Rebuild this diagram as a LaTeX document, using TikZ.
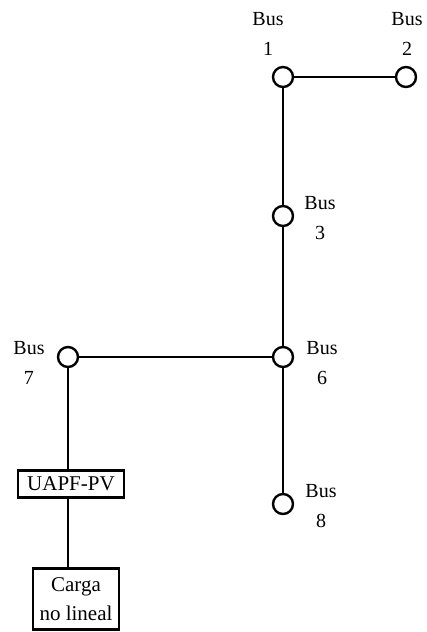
\documentclass[tikz,border=0pt]{standalone}
\usepackage{fontspec}
\setmainfont{Liberation Serif}
\begin{document}
\begin{tikzpicture}[x=1pt,y=-1pt,
  bus/.style={circle,draw,line width=2.4pt,minimum size=20pt,inner sep=0pt,fill=white},
  lbl/.style={align=center,font=\fontsize{20}{30}\selectfont,inner sep=0pt},
  box/.style={draw,line width=2.4pt,align=center,font=\fontsize{21}{29}\selectfont,inner sep=1pt},
  ln/.style={line width=2.6pt}]
\useasboundingbox (0,0) rectangle (427,632);
\node[bus] (b1) at (283,77) {};
\node[bus] (b2) at (406,77) {};
\node[bus] (b3) at (283,216) {};
\node[bus] (b6) at (283,357) {};
\node[bus] (b8) at (283,504) {};
\node[bus] (b7) at (68,357) {};
\node[box,minimum width=106pt,minimum height=27pt] (u) at (71,484) {UAPF-PV};
\node[box,minimum width=86pt,minimum height=61pt] (c) at (76,599) {Carga\\no lineal};
\coordinate (ut) at (68,471);
\coordinate (ub) at (68,497);
\coordinate (ct) at (68,569);
\draw[ln] (b1) -- (b2);
\draw[ln] (b1) -- (b3);
\draw[ln] (b3) -- (b6);
\draw[ln] (b6) -- (b8);
\draw[ln] (b6) -- (b7);
\draw[ln] (b7) -- (ut);
\draw[ln] (ub) -- (ct);
\node[lbl] (l1) at (268,34) {Bus\\1};
\node[lbl] (l2) at (407,34) {Bus\\2};
\node[lbl] (l3) at (320,218) {Bus\\3};
\node[lbl] (l6) at (322,363) {Bus\\6};
\node[lbl] (l8) at (321,506) {Bus\\8};
\node[lbl] (l7) at (29,363) {Bus\\7};
\end{tikzpicture}
\end{document}
